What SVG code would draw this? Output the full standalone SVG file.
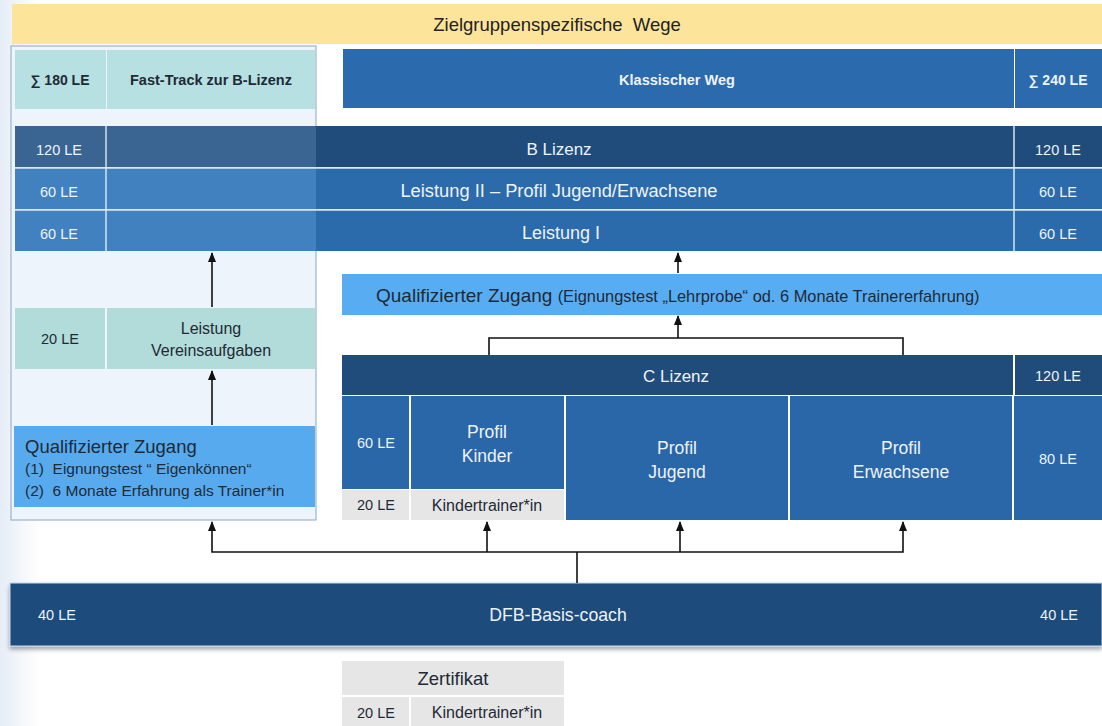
<svg xmlns="http://www.w3.org/2000/svg" width="1102" height="726" viewBox="0 0 1102 726">
<defs>
<linearGradient id="bgl" x1="0" y1="0" x2="1" y2="0">
<stop offset="0" stop-color="#e6edf7"/><stop offset="1" stop-color="#ffffff"/>
</linearGradient>
<marker id="ah" markerWidth="10" markerHeight="8" refX="9" refY="4" orient="auto-start-reverse" markerUnits="userSpaceOnUse">
<path d="M0,0 L10,4 L0,8 Z" fill="#111"/>
</marker>
<filter id="sh" x="-5%" y="-20%" width="110%" height="150%">
<feDropShadow dx="0" dy="3" stdDeviation="2" flood-color="#000" flood-opacity="0.35"/>
</filter>
</defs>
<style>
text{font-family:"Liberation Sans",Arial,sans-serif;white-space:pre;}
.w{fill:#eef3f8;font-size:14.5px;}
.d{fill:#1e2a36;font-size:14.5px;}
.c{text-anchor:middle;}
.b{font-weight:bold;}
.cell{stroke:#d7e4f1;stroke-width:1.5;}
.ln{stroke:#111;stroke-width:1.6;fill:none;}
.big{font-size:17.5px;}
</style>
<rect width="1102" height="726" fill="#ffffff"/>
<rect width="40" height="726" fill="url(#bgl)"/>

<g id="header">
<rect x="12" y="4" width="1090" height="40" fill="#fde49b"/>
<text x="557" y="31" class="c" style="font-size:18.5px;fill:#222">Zielgruppenspezifische  Wege</text>
</g>

<g id="fasttrack-container">
<rect x="11" y="46" width="305" height="474" fill="#eef4fb" stroke="#9cb4cc" stroke-width="1.2"/>
</g>

<g id="fasttrack-head">
<rect x="15" y="50" width="91" height="59" fill="#b6e0e1"/>
<rect x="107" y="50" width="208" height="59" fill="#b6e0e1"/>
<text x="60" y="85" class="d c b" style="font-size:14px">∑ 180 LE</text>
<text x="211" y="85" class="d c b" style="font-size:14.5px">Fast-Track zur B-Lizenz</text>
</g>

<g id="klassisch-head">
<rect x="343" y="49" width="671" height="59" fill="#2a6aad"/>
<rect x="1015" y="49" width="87" height="59" fill="#2a6aad"/>
<text x="677" y="85" class="w c b" style="font-size:14.5px">Klassischer Weg</text>
<text x="1058" y="85" class="w c b" style="font-size:14px">∑ 240 LE</text>
</g>

<g id="b-lizenz">
<rect x="15" y="126" width="1087" height="41" fill="#1f4c7b"/>
<rect x="15" y="126" width="90" height="41" fill="#3a6592"/>
<rect x="106" y="126" width="210" height="41" fill="#3a6592"/>
<line x1="106" y1="126" x2="106" y2="167" class="cell"/>
<line x1="1014" y1="126" x2="1014" y2="167" class="cell"/>
<text x="59" y="155" class="w c">120 LE</text>
<text x="559" y="155" class="w c" style="font-size:17px">B Lizenz</text>
<text x="1058" y="155" class="w c">120 LE</text>
</g>

<g id="leistung-2">
<rect x="15" y="168" width="1087" height="41" fill="#2b6bac"/>
<rect x="15" y="168" width="301" height="41" fill="#4181bf"/>
<line x1="106" y1="168" x2="106" y2="209" class="cell"/>
<line x1="1014" y1="168" x2="1014" y2="209" class="cell"/>
<line x1="15" y1="168" x2="1102" y2="168" class="cell"/>
<text x="59" y="197" class="w c">60 LE</text>
<text x="559" y="197" class="w c" style="font-size:18.3px">Leistung II – Profil Jugend/Erwachsene</text>
<text x="1058" y="197" class="w c">60 LE</text>
</g>

<g id="leistung-1">
<rect x="15" y="210" width="1087" height="41" fill="#2b6bac"/>
<rect x="15" y="210" width="301" height="41" fill="#4181bf"/>
<line x1="106" y1="210" x2="106" y2="251" class="cell"/>
<line x1="1014" y1="210" x2="1014" y2="251" class="cell"/>
<line x1="15" y1="210" x2="1102" y2="210" class="cell"/>
<text x="59" y="239" class="w c">60 LE</text>
<text x="561" y="239" class="w c" style="font-size:18px">Leistung I</text>
<text x="1058" y="239" class="w c">60 LE</text>
</g>

<g id="vereinsaufgaben">
<rect x="15" y="308" width="90" height="61" fill="#b2dcd9"/>
<rect x="107" y="308" width="208" height="61" fill="#b2dcd9"/>
<text x="60" y="344" class="d c">20 LE</text>
<text x="211" y="334" class="d c" style="font-size:16px">Leistung</text>
<text x="211" y="356" class="d c" style="font-size:16px">Vereinsaufgaben</text>
</g>

<g id="zugang-left">
<rect x="14" y="426" width="301" height="81" fill="#58aaef"/>
<text x="25" y="453" class="d" style="font-size:18.5px">Qualifizierter Zugang</text>
<text x="25" y="474" class="d" style="font-size:15.5px">(1)  Eignungstest “ Eigenkönnen“</text>
<text x="25" y="496" class="d" style="font-size:15.5px">(2)  6 Monate Erfahrung als Trainer*in</text>
</g>

<g id="zugang-right">
<rect x="342" y="274" width="760" height="41" fill="#58adf2"/>
<text x="376" y="302" class="d" style="font-size:19px">Qualifizierter Zugang <tspan style="font-size:16.4px">(Eignungstest „Lehrprobe“ od. 6 Monate Trainererfahrung)</tspan></text>
</g>

<g id="c-lizenz">
<rect x="342" y="355" width="671" height="40" fill="#1f4c7b"/>
<rect x="1015" y="355" width="87" height="40" fill="#1f4c7b"/>
<text x="676" y="382" class="w c" style="font-size:17px">C Lizenz</text>
<text x="1058" y="381" class="w c">120 LE</text>
</g>

<g id="profil-kinder">
<rect x="342" y="396" width="67" height="93" fill="#2a67a8"/>
<rect x="411" y="396" width="153" height="93" fill="#2a67a8"/>
<rect x="342" y="490" width="67" height="30" fill="#e6e6e6"/>
<rect x="411" y="490" width="153" height="30" fill="#e6e6e6"/>
<text x="376" y="448" class="w c">60 LE</text>
<text x="487" y="438" class="w c big">Profil</text>
<text x="487" y="462" class="w c big">Kinder</text>
<text x="376" y="510" class="d c">20 LE</text>
<text x="487" y="511" class="d c" style="font-size:16px">Kindertrainer*in</text>
</g>

<g id="profil-jugend">
<rect x="566" y="396" width="222" height="124" fill="#2a67a8"/>
<text x="677" y="454" class="w c big">Profil</text>
<text x="677" y="478" class="w c big">Jugend</text>
</g>

<g id="profil-erwachsene">
<rect x="790" y="396" width="222" height="124" fill="#2a67a8"/>
<text x="901" y="454" class="w c big">Profil</text>
<text x="901" y="478" class="w c big">Erwachsene</text>
</g>

<g id="c-80le">
<rect x="1014" y="396" width="88" height="124" fill="#2a67a8"/>
<text x="1058" y="464" class="w c">80 LE</text>
</g>

<g id="dfb-basis">
<rect x="10" y="583" width="1092" height="63" fill="#1f4c7b" stroke="#c9d7e6" stroke-width="1" filter="url(#sh)"/>
<text x="38" y="620" class="w">40 LE</text>
<text x="558" y="621" class="w c" style="font-size:17.7px">DFB-Basis-coach</text>
<text x="1078" y="620" class="w" style="text-anchor:end">40 LE</text>
</g>

<g id="zertifikat">
<rect x="342" y="661" width="222" height="34" fill="#e6e6e6"/>
<rect x="342" y="697" width="67" height="29" fill="#e6e6e6"/>
<rect x="411" y="697" width="153" height="29" fill="#e6e6e6"/>
<text x="453" y="685" class="d c" style="font-size:18.5px">Zertifikat</text>
<text x="376" y="718" class="d c">20 LE</text>
<text x="487" y="718" class="d c" style="font-size:16px">Kindertrainer*in</text>
</g>

<g id="connectors">
<line x1="212" y1="307" x2="212" y2="253" class="ln" marker-end="url(#ah)"/>
<line x1="212" y1="425" x2="212" y2="371" class="ln" marker-end="url(#ah)"/>
<line x1="678" y1="273" x2="678" y2="253" class="ln" marker-end="url(#ah)"/>
<polyline points="489,355 489,338 903,338 903,355" class="ln"/>
<line x1="678" y1="338" x2="678" y2="316" class="ln" marker-end="url(#ah)"/>
<line x1="577" y1="583" x2="577" y2="552" class="ln"/>
<polyline points="212,522 212,552 903,552 903,522" class="ln" marker-start="url(#ah)" marker-end="url(#ah)"/>
<line x1="487" y1="552" x2="487" y2="522" class="ln" marker-end="url(#ah)"/>
<line x1="680" y1="552" x2="680" y2="522" class="ln" marker-end="url(#ah)"/>
</g>
</svg>
